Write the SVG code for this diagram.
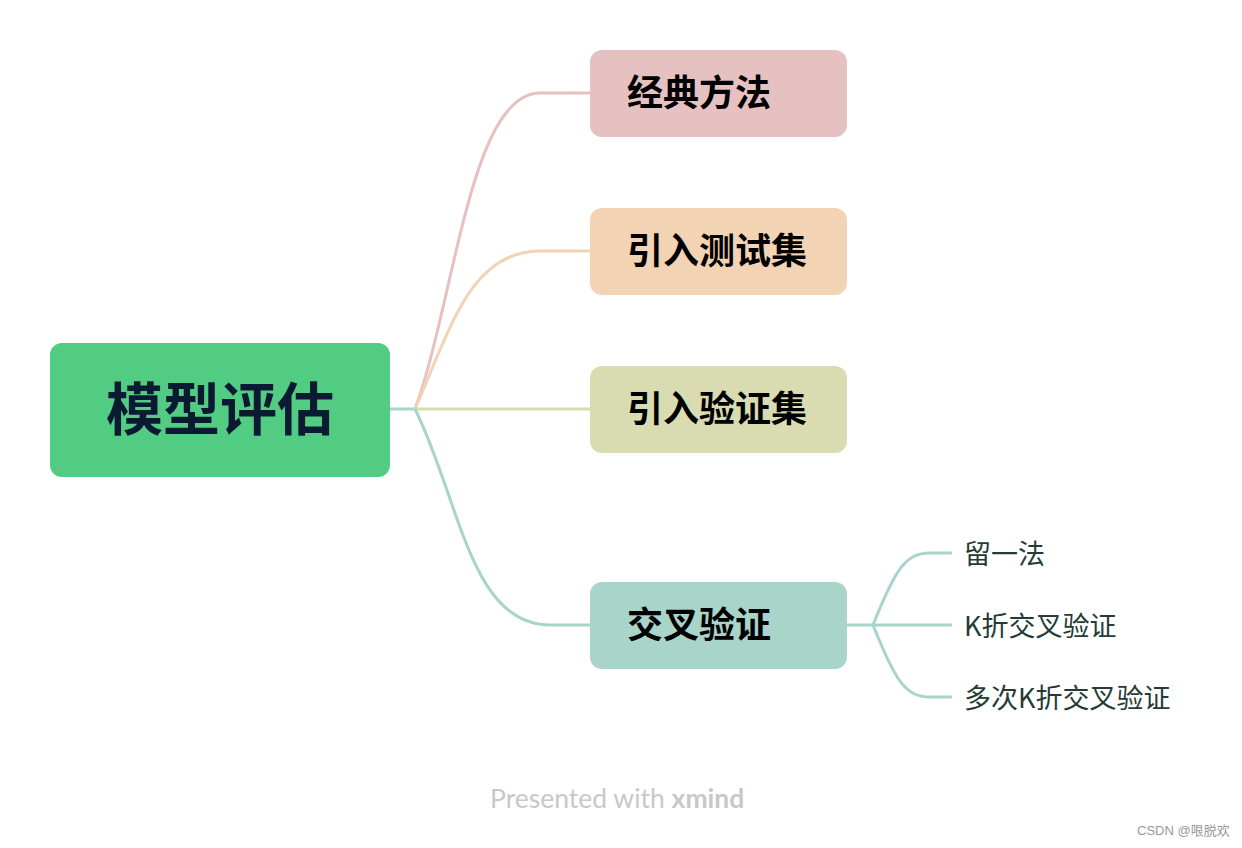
<svg xmlns="http://www.w3.org/2000/svg" width="1242" height="848" viewBox="0 0 1242 848">
<style>
.t{font-family:"Noto Sans CJK SC","Noto Sans",sans-serif;font-weight:bold;fill:#000}
.s{font-family:"Noto Sans CJK SC","Noto Sans",sans-serif;font-size:27px;fill:#253c36}
.c{fill:none;stroke-width:3}
</style>
<rect width="1242" height="848" fill="#fff"/>
<g id="connectors">
<path class="c" stroke="#A8D4CA" d="M390 409 L415 409"/>
<path class="c" stroke="#E6C1C1" d="M415 409 C455 300 470 93 540 93 L590 93"/>
<path class="c" stroke="#F2D3B3" d="M415 409 C450 330 470 251 540 251 L590 251"/>
<path class="c" stroke="#D9DCB0" d="M415 409 L590 409"/>
<path class="c" stroke="#A8D4CA" d="M415 409 C460 500 470 625 550 625 L590 625"/>
<path class="c" stroke="#A8D4CA" d="M847 625 L873 625"/>
<path class="c" stroke="#A8D4CA" d="M873 625 C895 570 905 553 930 553 L952 553"/>
<path class="c" stroke="#A8D4CA" d="M873 625 L952 625"/>
<path class="c" stroke="#A8D4CA" d="M873 625 C895 680 905 697 930 697 L952 697"/>
</g>
<g id="root"><rect x="50" y="343" width="340" height="134" rx="12" fill="#52CC82"/><text class="t" x="220" y="430" font-size="57" text-anchor="middle" style="fill:#0a1a33">模型评估</text></g>
<g id="n1"><rect x="590" y="50" width="257" height="87" rx="12" fill="#E6C1C1"/><text class="t" x="627" y="106" font-size="36">经典方法</text></g>
<g id="n2"><rect x="590" y="208" width="257" height="87" rx="12" fill="#F2D3B3"/><text class="t" x="627" y="264" font-size="36">引入测试集</text></g>
<g id="n3"><rect x="590" y="366" width="257" height="87" rx="12" fill="#D9DCB0"/><text class="t" x="627" y="422" font-size="36">引入验证集</text></g>
<g id="n4"><rect x="590" y="582" width="257" height="87" rx="12" fill="#A8D4CA"/><text class="t" x="627" y="638" font-size="36">交叉验证</text></g>
<g id="s1"><text class="s" x="964" y="564">留一法</text></g>
<g id="s2"><text class="s" x="964" y="636">K折交叉验证</text></g>
<g id="s3"><text class="s" x="964" y="708">多次K折交叉验证</text></g>
<text x="490" y="808" font-family="Lato,'Noto Sans',sans-serif" font-size="26.5" fill="#c8c8c8">Presented with <tspan font-weight="bold">xmind</tspan></text>
<text x="1137" y="835" font-family="'Liberation Sans','Noto Sans CJK SC',sans-serif" font-size="13" fill="#999">CSDN @哏脱欢</text>
</svg>
